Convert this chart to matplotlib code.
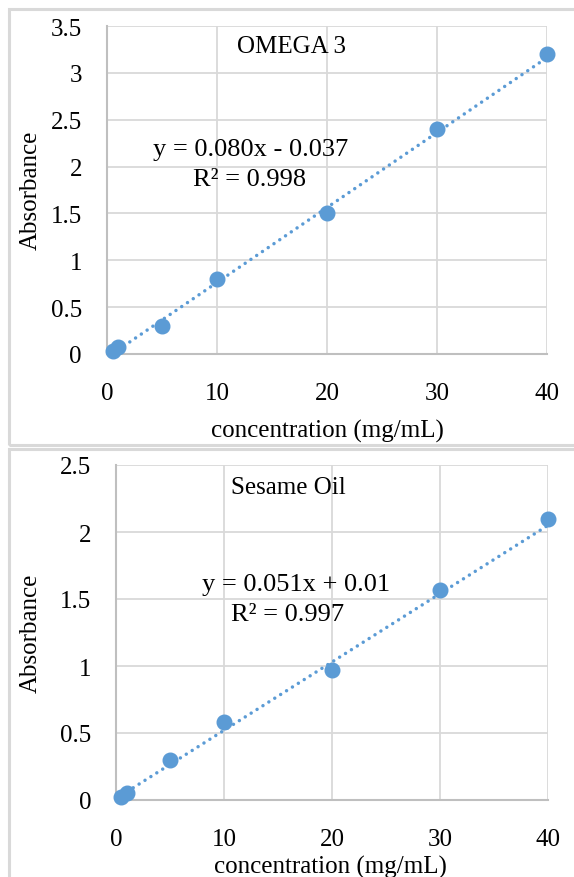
import matplotlib.pyplot as plt
from matplotlib.patches import Rectangle
import numpy as np

# concentration (mg/mL)
conc = [0.5, 1, 5, 10, 20, 30, 40]

# OMEGA 3
omega_abs = [0.03, 0.07, 0.30, 0.80, 1.50, 2.40, 3.20]
omega_fit = (0.080, -0.037)
omega_eq = ["y = 0.080x - 0.037", "R² = 0.998"]

# Sesame Oil
sesame_abs = [0.02, 0.05, 0.30, 0.58, 0.97, 1.57, 2.10]
sesame_fit = (0.051, 0.01)
sesame_eq = ["y = 0.051x + 0.01", "R² = 0.997"]

W, H = 574, 878
plt.rcParams['font.family'] = ['Liberation Serif', 'DejaVu Serif']
plt.rcParams['font.size'] = 18
blue = '#5b9bd5'

fig = plt.figure(figsize=(W / 100, H / 100), dpi=100)


def px(x0, y0, x1, y1):
    # pixel box -> figure fraction [left, bottom, width, height]
    return [x0 / W, 1 - y1 / H, (x1 - x0) / W, (y1 - y0) / H]


def ftext(x, y, s, **kw):
    fig.text(x / W, 1 - y / H, s, ha='center', va='center', **kw)


# panel frames
for y0, y1 in [(10, 446), (450, 885)]:
    fig.add_artist(Rectangle((9 / W, 1 - y1 / H), (W + 10 - 9) / W, (y1 - y0) / H,
                             transform=fig.transFigure, fill=False,
                             edgecolor='#d9d9d9', lw=2.2))


def panel(box, yvals, fit, ymax, yticks, title, eq, tpos, eqpos, r2pos, ylab_pos, xlab_pos):
    ax = fig.add_axes(px(*box))
    ax.set_xlim(0, 40)
    ax.set_ylim(0, ymax)
    ax.set_xticks([0, 10, 20, 30, 40])
    ax.set_yticks(yticks)
    ax.set_yticklabels([f'{t:g}' for t in yticks])
    ax.grid(True, color='#d9d9d9', lw=1.3)
    ax.set_axisbelow(True)
    for s in ['top', 'right']:
        ax.spines[s].set_visible(False)
    for s in ['left', 'bottom']:
        ax.spines[s].set_color('#bfbfbf')
        ax.spines[s].set_linewidth(1.5)
    ax.tick_params(length=0, pad=18)
    ax.tick_params(axis='x', pad=20)
    xs = np.array([conc[0], conc[-1]])
    ax.plot(xs, fit[0] * xs + fit[1], ls=(0, (0.01, 2.0)), lw=2.5,
            color=blue, dash_capstyle='round', zorder=2)
    ax.plot(conc, yvals, 'o', ms=10.5, color=blue, zorder=3, clip_on=False)
    ftext(*tpos, title)
    ftext(*eqpos, eq[0], fontsize=19)
    ftext(*r2pos, eq[1], fontsize=19)
    ftext(*ylab_pos, 'Absorbance', rotation=90)
    ftext(*xlab_pos, 'concentration (mg/mL)')


panel((107, 27, 547, 355), omega_abs, omega_fit, 3.5,
      [0, 0.5, 1, 1.5, 2, 2.5, 3, 3.5], 'OMEGA 3', omega_eq,
      (291, 47), (251, 150), (250, 180), (31, 190), (327, 431))
panel((116, 466, 548, 801), sesame_abs, sesame_fit, 2.5,
      [0, 0.5, 1, 1.5, 2, 2.5], 'Sesame Oil', sesame_eq,
      (288, 488), (296, 585), (288, 615), (31, 633), (330, 867))

fig.savefig('out.png', dpi=100)
